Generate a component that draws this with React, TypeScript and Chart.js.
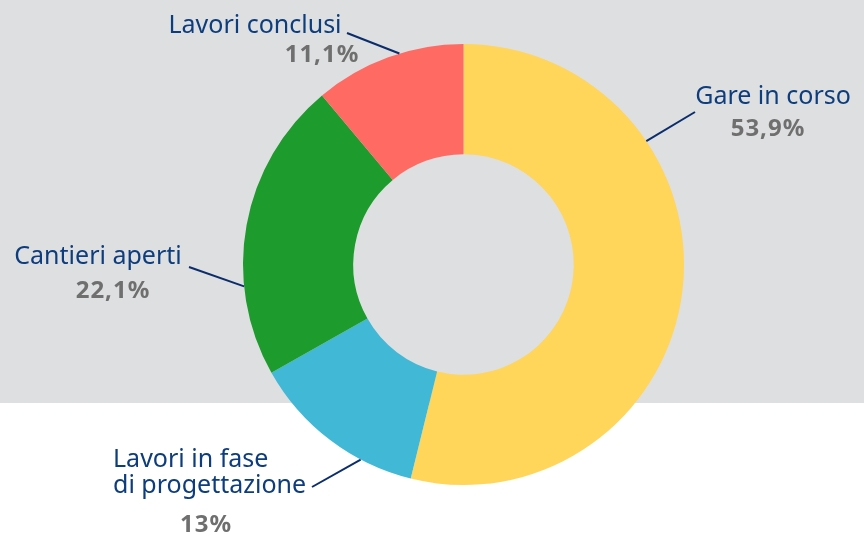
import React, { useEffect, useRef } from "react";
import { Chart, registerables } from "chart.js";

Chart.register(...registerables);

const categories = ["Gare in corso", "Lavori in fase di progettazione", "Cantieri aperti", "Lavori conclusi"];
const values = [53.9, 13, 22.1, 11.1];
const percentLabels = ["53,9%", "13%", "22,1%", "11,1%"];
const labelLines = [["Gare in corso"], ["Lavori in fase", "di progettazione"], ["Cantieri aperti"], ["Lavori conclusi"]];
const colors = ["#FFD55A", "#41B8D6", "#1D9B2D", "#FF6A62"];

// layout of annotations (positions, not data); y = text baselines
const labelLayout = [
  { x: 773, y: 104, px: 768, py: 136, align: "center", lineFrom: [695, 112], angle: -34 },
  { x: 113, y: 467, px: 206, py: 532, align: "left", lineFrom: [312, 487], angle: 117.8 },
  { x: 98, y: 264, px: 113, py: 298, align: "center", lineFrom: [189, 267], angle: 174.3 },
  { x: 255, y: 33, px: 322, py: 62, align: "center", lineFrom: [347, 33], angle: -106.9 },
];

const FONT = "'Noto Sans', sans-serif";

export default function App() {
  const ref = useRef<HTMLCanvasElement>(null);
  useEffect(() => {
    const bgPlugin = {
      id: "bg",
      beforeDraw(chart: any) {
        const { ctx, width, height } = chart;
        ctx.save();
        ctx.fillStyle = "#FFFFFF";
        ctx.fillRect(0, 0, width, height);
        ctx.fillStyle = "#DEDFE1";
        ctx.fillRect(0, 0, width, 403);
        ctx.restore();
      },
    };
    const labelPlugin = {
      id: "labels",
      afterDraw(chart: any) {
        const { ctx } = chart;
        const meta = chart.getDatasetMeta(0);
        ctx.save();
        meta.data.forEach((arc: any, i: number) => {
          const L = labelLayout[i];
          const a = (L.angle * Math.PI) / 180;
          const r = arc.outerRadius;
          const ex = arc.x + Math.cos(a) * r;
          const ey = arc.y + Math.sin(a) * r;
          ctx.strokeStyle = "#0B2D6B";
          ctx.lineWidth = 2;
          ctx.beginPath();
          ctx.moveTo(L.lineFrom[0], L.lineFrom[1]);
          ctx.lineTo(ex, ey);
          ctx.stroke();
          ctx.fillStyle = "#0D3D7C";
          ctx.font = `400 25px ${FONT}`;
          (ctx as any).letterSpacing = "0px";
          ctx.textAlign = L.align;
          ctx.textBaseline = "alphabetic";
          labelLines[i].forEach((t, k) => ctx.fillText(t, L.x, L.y + k * 26));
          ctx.fillStyle = "#6F6F6F";
          ctx.font = `700 24px ${FONT}`;
          (ctx as any).letterSpacing = "1px";
          ctx.textAlign = "center";
          ctx.fillText(percentLabels[i], L.px, L.py);
        });
        ctx.restore();
      },
    };
    const chart = new Chart(ref.current!, {
      type: "doughnut",
      data: {
        labels: categories,
        datasets: [{ data: values, backgroundColor: colors, borderWidth: 0 }],
      },
      options: {
        responsive: false,
        animation: false,
        cutout: "50%",
        rotation: 0,
        layout: { padding: { top: 44, bottom: 50, left: 243, right: 180 } },
        plugins: { legend: { display: false }, tooltip: { enabled: false } },
      },
      plugins: [bgPlugin, labelPlugin],
    });
    return () => chart.destroy();
  }, []);
  return (
    <div style={{ position: "fixed", left: 0, top: 0, width: 864, height: 535 }}>
      <canvas ref={ref} width={864} height={535} style={{ width: 864, height: 535 }} />
    </div>
  );
}
